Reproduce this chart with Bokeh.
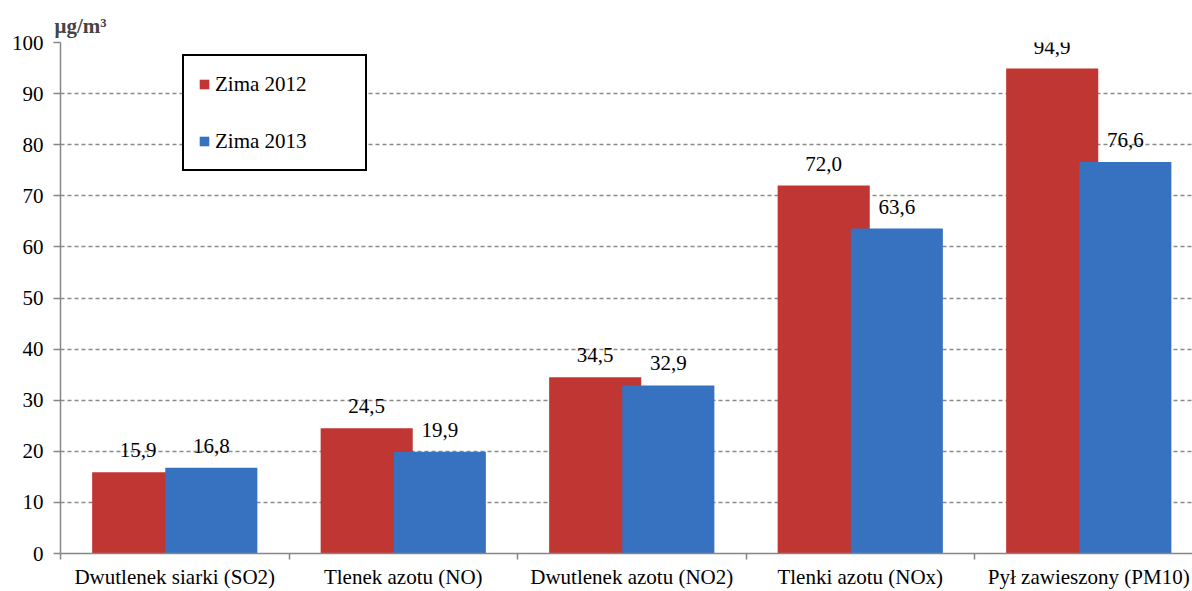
from bokeh.plotting import figure
from bokeh.models import Range1d, FixedTicker, CustomJSTickFormatter, ColumnDataSource, Legend
from bokeh.transform import dodge
from bokeh.core.properties import value
from bokeh.embed import file_html
from bokeh.resources import INLINE

categories = ["Dwutlenek siarki (SO2)", "Tlenek azotu (NO)", "Dwutlenek azotu (NO2)",
              "Tlenki azotu (NOx)", "Pył zawieszony (PM10)"]
zima_2012 = [15.9, 24.5, 34.5, 72.0, 94.9]
zima_2013 = [16.8, 19.9, 32.9, 63.6, 76.6]
series_names = ["Zima 2012", "Zima 2013"]
y_ticks = [0, 10, 20, 30, 40, 50, 60, 70, 80, 90, 100]
unit_label = "μg/m³"

FONT = "Liberation Serif"
RED = "#BF3633"
BLUE = "#3672BF"
GRAY = "#868686"

pos = [i + 0.5 for i in range(len(categories))]
fmt = lambda v: f"{v:.1f}".replace(".", ",")
src = ColumnDataSource(dict(
    x=pos, z12=zima_2012, z13=zima_2013,
    l12=[fmt(v) for v in zima_2012], l13=[fmt(v) for v in zima_2013],
))

p = figure(width=1192, height=591, x_range=Range1d(0, 4.954), y_range=Range1d(0, 100),
           output_backend="svg", toolbar_location=None,
           min_border_left=60, min_border_right=0, min_border_top=42, min_border_bottom=35)
p.outline_line_color = None
p.background_fill_color = "white"

p.title.text = unit_label
p.title.text_font = FONT
p.title.text_font_size = "21px"
p.title.text_font_style = "bold"
p.title.align = "left"
p.title.offset = -6
p.title.standoff = 10

bw = 0.403
r1 = p.vbar(x=dodge("x", -0.16), top="z12", width=bw, source=src, fill_color=RED, line_color=None)
r2 = p.vbar(x=dodge("x", 0.16), top="z13", width=bw, source=src, fill_color=BLUE, line_color=None)

p.text(x=dodge("x", -0.16), y="z12", text="l12", source=src, text_font=value(FONT),
       text_font_size="21px", text_align="center", text_baseline="alphabetic", y_offset=-22,
       text_color="black")
p.text(x=dodge("x", 0.16), y="z13", text="l13", source=src, text_font=value(FONT),
       text_font_size="21px", text_align="center", text_baseline="alphabetic", y_offset=-22,
       text_color="black")

# y axis
p.yaxis.ticker = FixedTicker(ticks=y_ticks, minor_ticks=[])
p.yaxis.axis_line_color = GRAY
p.yaxis.axis_line_width = 1.5
p.yaxis.major_tick_line_color = GRAY
p.yaxis.major_tick_line_width = 1.5
p.yaxis.major_tick_out = 7
p.yaxis.major_tick_in = 0
p.yaxis.minor_tick_line_color = None
p.yaxis.major_label_standoff = 10
p.yaxis.major_label_text_font = FONT
p.yaxis.major_label_text_font_size = "21px"
p.yaxis.major_label_text_color = "black"

# x axis
p.xaxis.ticker = FixedTicker(ticks=pos, minor_ticks=list(range(len(categories) + 1)))
p.xaxis.formatter = CustomJSTickFormatter(args=dict(labels=categories),
                                          code="return labels[Math.floor(tick)];")
p.xaxis.axis_line_color = GRAY
p.xaxis.axis_line_width = 1.5
p.xaxis.major_tick_line_color = None
p.xaxis.major_tick_out = 0
p.xaxis.major_tick_in = 0
p.xaxis.minor_tick_line_color = GRAY
p.xaxis.minor_tick_line_width = 1.5
p.xaxis.minor_tick_out = 6
p.xaxis.minor_tick_in = 0
p.xaxis.major_label_standoff = 5
p.xaxis.major_label_text_font = FONT
p.xaxis.major_label_text_font_size = "21px"
p.xaxis.major_label_text_color = "black"

p.xgrid.visible = False
p.ygrid.grid_line_color = "#8a8a8a"
p.ygrid.grid_line_width = 1.5
p.ygrid.grid_line_dash = "4 3"

legend = Legend(items=[(series_names[0], [r1]), (series_names[1], [r2])], location=(122, 382))
legend.border_line_color = "black"
legend.border_line_alpha = 1
legend.border_line_width = 2
legend.background_fill_color = "white"
legend.background_fill_alpha = 1
legend.padding = 14
legend.spacing = 29
legend.margin = 0
legend.glyph_width = 12
legend.glyph_height = 12
legend.label_height = 28
legend.label_width = 136
legend.label_standoff = 5
legend.label_text_font = FONT
legend.label_text_font_size = "21px"
legend.label_text_color = "black"
p.add_layout(legend)

open("out.html", "w").write(file_html(p, INLINE))
